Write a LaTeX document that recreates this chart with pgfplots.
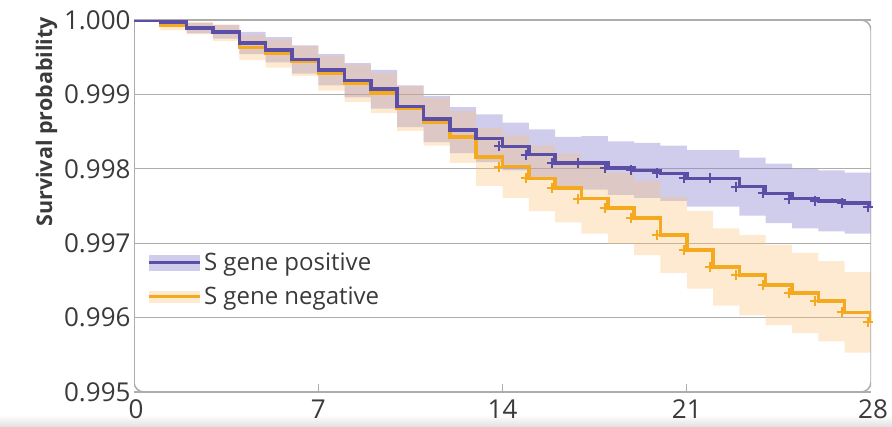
\documentclass[border=0pt]{standalone}
\usepackage{pgfplots}
\pgfplotsset{compat=1.18}
\usepackage{pgfplotstable}
\usepgfplotslibrary{fillbetween}
\usepackage{fontspec}
\setmainfont{Open Sans}
\definecolor{pline}{HTML}{5A4EA6}
\definecolor{oline}{HTML}{F5A91F}
\definecolor{pband}{HTML}{8A80D0}
\definecolor{oband}{HTML}{F9C074}
\definecolor{framec}{HTML}{ADADAD}
\definecolor{txt}{HTML}{3A3A3A}

\pgfplotstableread{
d  p       pu      pl      o       ou      ol
0  1.00000 1.00000 1.00000 1.00000 1.00000 1.00000
1  0.99997 1.00000 0.99993 0.99993 1.00000 0.99986
2  0.99989 0.99996 0.99982 0.99989 0.99997 0.99981
3  0.99984 0.99993 0.99975 0.99983 0.99994 0.99972
4  0.99969 0.99984 0.99954 0.99963 0.99980 0.99946
5  0.99960 0.99977 0.99943 0.99955 0.99974 0.99936
6  0.99947 0.99966 0.99928 0.99945 0.99965 0.99925
7  0.99933 0.99954 0.99912 0.99928 0.99951 0.99905
8  0.99919 0.99942 0.99896 0.99915 0.99940 0.99890
9  0.99907 0.99933 0.99881 0.99902 0.99929 0.99875
10 0.99884 0.99912 0.99856 0.99881 0.99911 0.99851
11 0.99867 0.99898 0.99836 0.99863 0.99895 0.99831
12 0.99852 0.99883 0.99821 0.99843 0.99878 0.99808
13 0.99841 0.99873 0.99809 0.99816 0.99855 0.99777
14 0.99830 0.99862 0.99798 0.99803 0.99845 0.99761
15 0.99819 0.99853 0.99785 0.99787 0.99831 0.99743
16 0.99808 0.99843 0.99773 0.99774 0.99820 0.99728
17 0.99808 0.99844 0.99772 0.99760 0.99807 0.99713
18 0.99801 0.99837 0.99765 0.99747 0.99795 0.99699
19 0.99798 0.99835 0.99761 0.99734 0.99784 0.99684
20 0.99794 0.99831 0.99757 0.99711 0.99762 0.99660
21 0.99787 0.99825 0.99749 0.99691 0.99743 0.99639
22 0.99787 0.99825 0.99749 0.99668 0.99720 0.99616
23 0.99776 0.99815 0.99737 0.99657 0.99711 0.99603
24 0.99767 0.99807 0.99727 0.99644 0.99698 0.99590
25 0.99760 0.99800 0.99720 0.99633 0.99687 0.99579
26 0.99757 0.99798 0.99716 0.99622 0.99676 0.99568
27 0.99754 0.99795 0.99713 0.99607 0.99661 0.99553
28 0.99749 0.99790 0.99708 0.99594 0.99648 0.99540
}\km

\begin{document}
\begin{tikzpicture}
\shade[top color=white, bottom color=black!12] (-134bp,-35bp) rectangle (758bp,-23bp);
\begin{axis}[
  scale only axis,
  width=737bp, height=372bp,
  xmin=0, xmax=28, ymin=0.995, ymax=1.000,
  axis line style={draw=none},
  xtick={7,14,21},
  extra x ticks={0,28},
  extra x tick style={major tick length=0pt, xticklabel style={xshift=2bp}},
  ytick={0.995,0.996,0.997,0.998,0.999,1.000},
  ymajorgrids,
  grid style={framec, line width=1.3bp},
  xtick pos=lower,
  tick align=inside,
  major tick length=8bp,
  x tick style={framec, line width=1.3bp},
  y tick style={draw=none},
  /pgf/number format/assume math mode=true,
  yticklabel style={/pgf/number format/.cd, fixed, fixed zerofill, precision=3},
  xticklabel style={yshift=-4bp},
  tick label style={font=\fontsize{26bp}{30bp}\selectfont, text=txt},
  ylabel={Survival probability},
  ylabel style={at={(ticklabel cs:0.753)}, xshift=-10bp, font=\bfseries\fontsize{21.5bp}{25bp}\selectfont, text=txt},
  reverse legend,
  legend cell align=left,
  legend style={at={(rel axis cs:0.014,0.302)}, anchor=west, draw=none, fill=none,
    font=\fontsize{24bp}{29bp}\selectfont, text=txt, row sep=10bp,
    nodes={inner sep=2.5bp}},
]
\draw[framec, line width=1.5bp, rounded corners=10bp, line cap=rect]
  (rel axis cs:0,1) -- (rel axis cs:1,1) -- (rel axis cs:1,0) -- (rel axis cs:0,0) -- (rel axis cs:0,1);

\addplot[const plot, draw=none, name path=pu, forget plot] table[x=d,y=pu]{\km};
\addplot[const plot, draw=none, name path=pl, forget plot] table[x=d,y=pl]{\km};
\addplot[pband, fill opacity=0.4, draw=none, forget plot] fill between[of=pu and pl];

\addplot[const plot, draw=none, name path=ou, forget plot] table[x=d,y=ou]{\km};
\addplot[const plot, draw=none, name path=ol, forget plot] table[x=d,y=ol]{\km};
\addplot[oband, fill opacity=0.33, draw=none, forget plot] fill between[of=ou and ol];

\addplot[const plot, oline, line width=3.5bp, no marks,
  legend image code/.code={
    \path[fill=oband!33!white, draw=none] (0bp,-6bp) rectangle (51bp,6bp);
    \path[draw=oline, line width=3bp] (0bp,0bp) -- (51bp,0bp);}]
  table[x=d,y=o]{\km};
\addlegendentry{S gene negative}
\addplot[only marks, mark=+, mark size=5bp, oline, line width=2bp, forget plot,
  restrict x to domain=13:29]
  table[x expr=\thisrow{d}-0.12, y=o]{\km};

\addplot[const plot, pline, line width=3.5bp, no marks,
  legend image code/.code={
    \path[fill=pband!40!white, draw=none] (0bp,-8bp) rectangle (51bp,8bp);
    \path[draw=pline, line width=3bp] (0bp,0bp) -- (51bp,0bp);}]
  table[x=d,y=p]{\km};
\addlegendentry{S gene positive}
\addplot[only marks, mark=+, mark size=5bp, pline, line width=2bp, forget plot,
  restrict x to domain=13:29]
  table[x expr=\thisrow{d}-0.12, y=p]{\km};
\end{axis}
\pgfresetboundingbox
\path[use as bounding box] (-134bp,-35bp) rectangle (758bp,392bp);
\end{tikzpicture}
\end{document}
